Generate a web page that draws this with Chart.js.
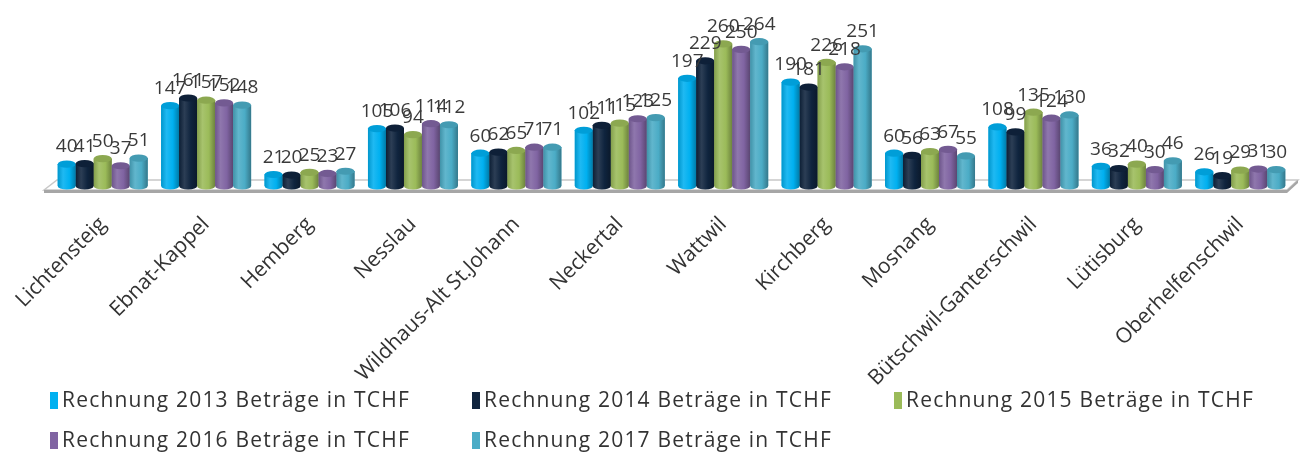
<!DOCTYPE html>
<html>
<head>
<meta charset="utf-8">
<script src="https://cdn.jsdelivr.net/npm/chart.js@4.4.1/dist/chart.umd.min.js"></script>
<style>
  html, body { margin: 0; padding: 0; background: #fff; }
</style>
</head>
<body>
<canvas id="chart" width="1300" height="457"></canvas>
<script>
// Gemeinden (Kategorien)
const gemeinden = ['Lichtensteig', 'Ebnat-Kappel', 'Hemberg', 'Nesslau', 'Wildhaus-Alt St.Johann', 'Neckertal',
  'Wattwil', 'Kirchberg', 'Mosnang', 'Bütschwil-Ganterschwil', 'Lütisburg', 'Oberhelfenschwil'];
// Serien
const serien = ['Rechnung 2013 Beträge in TCHF', 'Rechnung 2014 Beträge in TCHF', 'Rechnung 2015 Beträge in TCHF',
  'Rechnung 2016 Beträge in TCHF', 'Rechnung 2017 Beträge in TCHF'];
const werte2013 = [40, 147, 21, 105, 60, 102, 197, 190, 60, 108, 36, 26];
const werte2014 = [41, 161, 20, 106, 62, 111, 229, 181, 56, 99, 32, 19];
const werte2015 = [50, 157, 25, 94, 65, 115, 260, 226, 63, 135, 40, 29];
const werte2016 = [37, 152, 23, 114, 71, 123, 250, 218, 67, 124, 30, 31];
const werte2017 = [51, 148, 27, 112, 71, 125, 264, 251, 55, 130, 46, 30];
const farben = ['#00B0F0', '#0F243E', '#9BBB59', '#8064A2', '#4BACC6'];

const schrift = '"Open Sans", "DejaVu Sans", sans-serif';

// Farbe mischen
function mix(hex, mit, t) {
  const a = parseInt(hex.slice(1), 16), b = parseInt(mit.slice(1), 16);
  const r = Math.round(((a >> 16) & 255) * (1 - t) + ((b >> 16) & 255) * t);
  const g = Math.round(((a >> 8) & 255) * (1 - t) + ((b >> 8) & 255) * t);
  const bl = Math.round((a & 255) * (1 - t) + (b & 255) * t);
  return 'rgb(' + r + ',' + g + ',' + bl + ')';
}

// Boden (3D-Plattform)
const boden = {
  id: 'boden',
  beforeDatasetsDraw(chart) {
    const ctx = chart.ctx, a = chart.chartArea;
    const yb = a.bottom;
    ctx.save();
    // Oberseite
    ctx.beginPath();
    ctx.moveTo(a.left - 7, yb + 4);
    ctx.lineTo(a.left + 6, yb - 6);
    ctx.lineTo(a.right + 6, yb - 6);
    ctx.lineTo(a.right - 5, yb + 4);
    ctx.closePath();
    ctx.fillStyle = '#ffffff';
    ctx.fill();
    ctx.strokeStyle = '#c8c8c8';
    ctx.lineWidth = 1.5;
    ctx.stroke();
    // Vorderkante
    ctx.beginPath();
    ctx.moveTo(a.left - 7, yb + 4);
    ctx.lineTo(a.right - 5, yb + 4);
    ctx.lineTo(a.right + 6, yb - 6);
    ctx.lineTo(a.right + 6, yb - 3);
    ctx.lineTo(a.right - 5, yb + 7);
    ctx.lineTo(a.left - 7, yb + 7);
    ctx.closePath();
    ctx.fillStyle = '#a6a6a6';
    ctx.fill();
    ctx.restore();
  }
};

// Zylinder und Wertbeschriftungen
const zylinder = {
  id: 'zylinder',
  afterDatasetsDraw(chart) {
    const ctx = chart.ctx;
    const labels = [];
    ctx.save();
    chart.data.datasets.forEach((ds, i) => {
      const meta = chart.getDatasetMeta(i);
      const col = farben[i];
      meta.data.forEach((bar, j) => {
        const p = bar.getProps(['x', 'y', 'base', 'width'], true);
        const l = p.x - p.width / 2, r = p.x + p.width / 2;
        const rx = p.width / 2, ry = p.width * 0.2;
        const g = ctx.createLinearGradient(l, 0, r, 0);
        g.addColorStop(0, mix(col, '#000000', 0.15));
        g.addColorStop(0.3, mix(col, '#ffffff', 0.12));
        g.addColorStop(0.65, col);
        g.addColorStop(1, mix(col, '#000000', 0.3));
        ctx.beginPath();
        ctx.moveTo(l, p.y);
        ctx.lineTo(l, p.base);
        ctx.ellipse(p.x, p.base, rx, ry, 0, Math.PI, 0, true);
        ctx.lineTo(r, p.y);
        ctx.closePath();
        ctx.fillStyle = g;
        ctx.fill();
        // Deckel
        ctx.beginPath();
        ctx.ellipse(p.x, p.y, rx, ry, 0, 0, Math.PI * 2);
        ctx.fillStyle = mix(col, '#000000', 0.1);
        ctx.fill();
        labels.push([p.x, p.y - ry - 4, ds.data[j]]);
      });
    });
    ctx.font = '19px ' + schrift;
    ctx.fillStyle = '#3a3a3a';
    ctx.textAlign = 'center';
    ctx.textBaseline = 'bottom';
    labels.forEach(t => ctx.fillText(String(t[2]), t[0], t[1]));
    ctx.restore();
  }
};

// Legende als Raster
const legende = {
  id: 'legende',
  afterDraw(chart) {
    const ctx = chart.ctx;
    ctx.save();
    ctx.font = '21px ' + schrift;
    ctx.letterSpacing = '1.2px';
    ctx.textBaseline = 'middle';
    ctx.textAlign = 'left';
    serien.forEach((s, i) => {
      const x = 50 + (i % 3) * 422;
      const y = 401 + Math.floor(i / 3) * 40;
      ctx.fillStyle = farben[i];
      ctx.fillRect(x, y - 9, 8, 17);
      ctx.fillStyle = '#333333';
      ctx.fillText(s, x + 12, y);
    });
    ctx.restore();
  }
};

const alleWerte = [werte2013, werte2014, werte2015, werte2016, werte2017];

new Chart(document.getElementById('chart'), {
  type: 'bar',
  data: {
    labels: gemeinden,
    datasets: serien.map((s, i) => ({
      label: s,
      data: alleWerte[i],
      backgroundColor: farben[i],
      borderWidth: 0,
      categoryPercentage: 0.87,
      barPercentage: 1.0
    }))
  },
  options: {
    responsive: false,
    animation: false,
    layout: { padding: { top: 22, right: 8, left: 0, bottom: 0 } },
    plugins: {
      legend: { display: false },
      tooltip: { enabled: false }
    },
    scales: {
      x: {
        grid: { display: false, drawTicks: false },
        border: { display: false },
        ticks: {
          color: '#333333',
          font: { family: schrift, size: 21 },
          maxRotation: 45,
          minRotation: 45,
          autoSkip: false,
          padding: 26
        },
        afterFit(scale) {
          scale.height = 271;
          scale.paddingLeft = 51;
          scale.paddingRight = 0;
        }
      },
      y: { display: false, min: 0, max: 300 }
    }
  },
  plugins: [boden, zylinder, legende]
});
</script>
</body>
</html>
